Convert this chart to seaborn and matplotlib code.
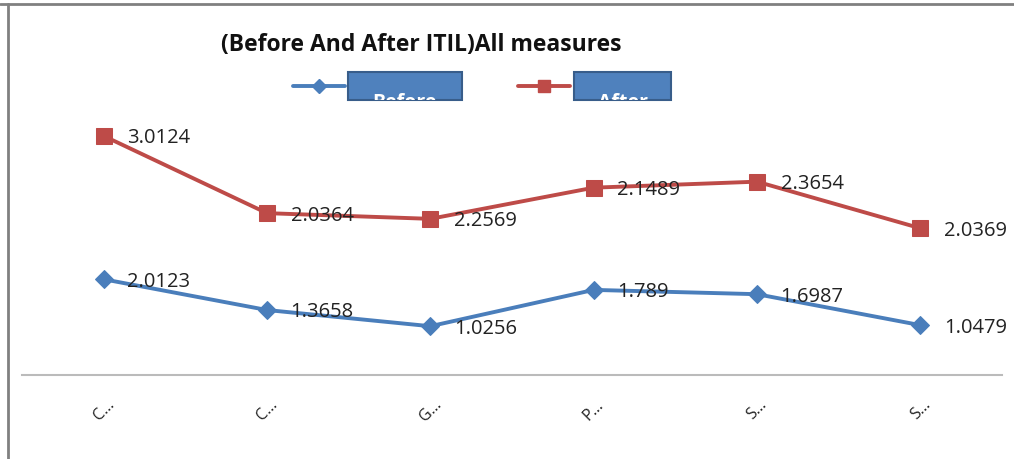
import matplotlib
matplotlib.use("Agg")
import matplotlib.pyplot as plt
import matplotlib.patches as mpatches
import matplotlib.lines as mlines
import seaborn as sns
import numpy as np
import pandas as pd

categories = ["C\u2026", "C\u2026", "G\u2026", "P\u2026", "S\u2026", "S\u2026"]
before = [2.0123, 1.3658, 1.0256, 1.789, 1.6987, 1.0479]
after = [3.0124, 2.0364, 2.2569, 2.1489, 2.3654, 2.0369]
series_names = ["Before", "After"]
title = "(Before And After ITIL)All measures"

BLUE = "#4A7EBB"
RED = "#BE4B48"

sns.set_theme(style="white")
plt.rcParams['font.family'] = ['Open Sans', 'DejaVu Sans']

W, H = 1014, 460
fig = plt.figure(figsize=(W / 100, H / 100), dpi=100)
# axes: x from 22 to 1002 px, y from 43 (top) to 376 (zero line)
ax = fig.add_axes([22 / W, (H - 376) / H, 980 / W, (376 - 43) / H])

x = np.arange(len(categories))
# stacked line chart: the After line sits on top of Before
stacked = np.array(before) + np.array(after)
df = pd.DataFrame({"x": np.concatenate([x, x]),
                   "y": np.concatenate([before, stacked]),
                   "series": ["Before"] * len(x) + ["After"] * len(x)})

sns.lineplot(data=df[df.series == "Before"], x="x", y="y", ax=ax, color=BLUE,
             lw=2.8, marker="D", markersize=9, markeredgecolor=BLUE, legend=False)
sns.lineplot(data=df[df.series == "After"], x="x", y="y", ax=ax, color=RED,
             lw=2.8, marker="s", markersize=11, markeredgecolor=RED, legend=False)

for xi, yb, ya, vb, va in zip(x, before, stacked, before, after):
    ax.annotate(f"{vb:g}", (xi, yb), xytext=(17, -1), textcoords="offset points",
                fontsize=14.5, color="#222222", va="center", ha="left")
    ax.annotate(f"{va:g}", (xi, ya), xytext=(17, -1), textcoords="offset points",
                fontsize=14.5, color="#222222", va="center", ha="left")

ax.set_xlim(-0.5, len(categories) - 0.5)
ax.set_ylim(0, 7)
ax.set_xticks(x)
ax.set_xticklabels(categories, rotation=45, fontsize=11.5, color="#222222")
ax.tick_params(axis="x", length=0, pad=15)
ax.set_yticks([])
ax.set_xlabel("")
ax.set_ylabel("")
for s in ["top", "right", "left"]:
    ax.spines[s].set_visible(False)
ax.spines["bottom"].set_color("#BBBBBB")
ax.spines["bottom"].set_linewidth(1.5)

# title
fig.text(421 / W, 1 - 45 / H, title, fontsize=16.5, fontweight="bold",
         ha="center", va="center", color="#111111")

# legend drawn in figure pixels
def px(xp, yp):
    return xp / W, 1 - yp / H

for (x0, x1, bx0, bx1, col, mk, ms), name in zip(
        [(293, 345, 348, 462, BLUE, "D", 7), (518, 570, 574, 671, RED, "s", 9)],
        series_names):
    ly = 87
    fig.add_artist(mlines.Line2D([x0 / W, x1 / W], [1 - ly / H, 1 - ly / H],
                                 color=col, lw=2.8))
    fig.add_artist(mlines.Line2D([(x0 + x1) / 2 / W], [1 - ly / H], color=col,
                                 marker=mk, markersize=ms, lw=0))
    bx, by = px(bx0, 101)
    rect = mpatches.Rectangle((bx, by), (bx1 - bx0) / W, 28 / H,
                              transform=fig.transFigure, facecolor="#4F81BD",
                              edgecolor="#385D8A", lw=1.5)
    fig.add_artist(rect)
    t = fig.text((bx0 + bx1) / 2 / W, 1 - 103 / H, name, fontsize=14,
                 fontweight="bold", color="white", ha="center", va="center")
    t.set_clip_path(rect)

# outer frame lines
fig.add_artist(mlines.Line2D([0, 1], [1 - 5 / H, 1 - 5 / H], color="#808080", lw=2))
fig.add_artist(mlines.Line2D([8 / W, 8 / W], [0, 1 - 5 / H], color="#808080", lw=2))

fig.savefig("out.png", dpi=100, facecolor="white")
